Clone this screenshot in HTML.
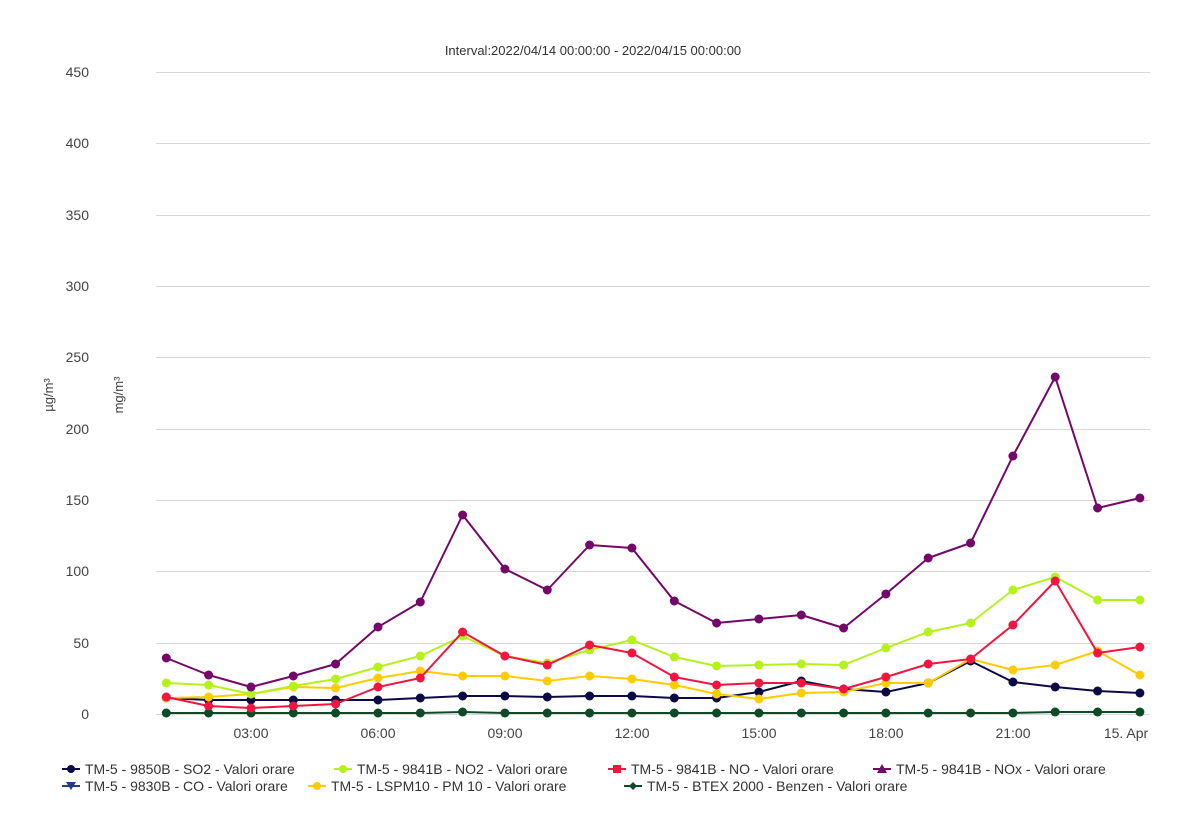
<!DOCTYPE html>
<html><head><meta charset="utf-8"><style>body{margin:0;background:#fff}svg{display:block;font-family:"Liberation Sans",sans-serif}</style></head>
<body>
<svg width="1202" height="829" xmlns="http://www.w3.org/2000/svg">
<defs>
<marker id="m1" markerUnits="userSpaceOnUse" markerWidth="10" markerHeight="10" refX="5" refY="5"><circle cx="5" cy="5" r="4.5" fill="#0d4a25"/></marker>
<marker id="m2" markerUnits="userSpaceOnUse" markerWidth="10" markerHeight="10" refX="5" refY="5"><circle cx="5" cy="5" r="4.5" fill="#0b0a45"/></marker>
<marker id="m3" markerUnits="userSpaceOnUse" markerWidth="10" markerHeight="10" refX="5" refY="5"><circle cx="5" cy="5" r="4.5" fill="#ffcc00"/></marker>
<marker id="m4" markerUnits="userSpaceOnUse" markerWidth="10" markerHeight="10" refX="5" refY="5"><circle cx="5" cy="5" r="4.5" fill="#b5f21c"/></marker>
<marker id="m5" markerUnits="userSpaceOnUse" markerWidth="10" markerHeight="10" refX="5" refY="5"><circle cx="5" cy="5" r="4.5" fill="#f0163f"/></marker>
<marker id="m6" markerUnits="userSpaceOnUse" markerWidth="10" markerHeight="10" refX="5" refY="5"><circle cx="5" cy="5" r="4.5" fill="#74086a"/></marker>
</defs>
<rect width="1202" height="829" fill="#fff"/>
<text x="593" y="55" font-size="13" fill="#333" text-anchor="middle">Interval:2022/04/14 00:00:00 - 2022/04/15 00:00:00</text>
<g stroke="#d8d8d8" stroke-width="1">
<line x1="156" x2="1150" y1="72.5" y2="72.5"/><line x1="156" x2="1150" y1="143.5" y2="143.5"/><line x1="156" x2="1150" y1="215.5" y2="215.5"/><line x1="156" x2="1150" y1="286.5" y2="286.5"/><line x1="156" x2="1150" y1="357.5" y2="357.5"/><line x1="156" x2="1150" y1="429.5" y2="429.5"/><line x1="156" x2="1150" y1="500.5" y2="500.5"/><line x1="156" x2="1150" y1="571.5" y2="571.5"/><line x1="156" x2="1150" y1="643.5" y2="643.5"/><line x1="156" x2="1150" y1="714.5" y2="714.5"/>
</g>
<g font-size="14" fill="#444" text-anchor="end">
<text x="89" y="77">450</text><text x="89" y="148">400</text><text x="89" y="220">350</text><text x="89" y="291">300</text><text x="89" y="362">250</text><text x="89" y="434">200</text><text x="89" y="505">150</text><text x="89" y="576">100</text><text x="89" y="648">50</text><text x="89" y="719">0</text>
</g>
<text transform="translate(53,395) rotate(-90)" font-size="13" fill="#444" text-anchor="middle">µg/m³</text>
<text transform="translate(123,395) rotate(-90)" font-size="13" fill="#444" text-anchor="middle">mg/m³</text>
<g font-size="14" fill="#444" text-anchor="middle">
<text x="251" y="738">03:00</text><text x="378" y="738">06:00</text><text x="505" y="738">09:00</text><text x="632" y="738">12:00</text><text x="759" y="738">15:00</text><text x="886" y="738">18:00</text><text x="1013" y="738">21:00</text><text x="1126" y="738">15. Apr</text>
</g>
<g fill="none" stroke-width="2" stroke-linejoin="round">
<polyline stroke="#0d4a25" marker-start="url(#m1)" marker-mid="url(#m1)" marker-end="url(#m1)" points="166.3,713 208.6,713 251,713 293.3,713 335.6,713 378,713 420.3,713 462.6,712 504.9,713 547.3,713 589.6,713 631.9,713 674.3,713 716.6,713 758.9,713 801.3,713 843.6,713 885.9,713 928.2,713 970.6,713 1012.9,713 1055.2,712 1097.6,712 1139.9,712"/>
<polyline stroke="#0b0a45" marker-start="url(#m2)" marker-mid="url(#m2)" marker-end="url(#m2)" points="166.3,698 208.6,700 251,700 293.3,700 335.6,700 378,700 420.3,698 462.6,696 504.9,696 547.3,697 589.6,696 631.9,696 674.3,698 716.6,698 758.9,692 801.3,681 843.6,689 885.9,692 928.2,683 970.6,661 1012.9,682 1055.2,687 1097.6,691 1139.9,693"/>
<polyline stroke="#ffcc00" marker-start="url(#m3)" marker-mid="url(#m3)" marker-end="url(#m3)" points="166.3,698 208.6,697 251,694 293.3,687 335.6,688 378,678 420.3,671 462.6,676 504.9,676 547.3,681 589.6,676 631.9,679 674.3,685 716.6,694 758.9,699 801.3,693 843.6,692 885.9,683 928.2,683 970.6,659 1012.9,670 1055.2,665 1097.6,651 1139.9,675"/>
<polyline stroke="#b5f21c" marker-start="url(#m4)" marker-mid="url(#m4)" marker-end="url(#m4)" points="166.3,683 208.6,685 251,694 293.3,686 335.6,679 378,667 420.3,656 462.6,636 504.9,656 547.3,663 589.6,650 631.9,640 674.3,657 716.6,666 758.9,665 801.3,664 843.6,665 885.9,648 928.2,632 970.6,623 1012.9,590 1055.2,577 1097.6,600 1139.9,600"/>
<polyline stroke="#f0163f" marker-start="url(#m5)" marker-mid="url(#m5)" marker-end="url(#m5)" points="166.3,697 208.6,706 251,708 293.3,706 335.6,704 378,687 420.3,678 462.6,632 504.9,656 547.3,665 589.6,645 631.9,653 674.3,677 716.6,685 758.9,683 801.3,683 843.6,689 885.9,677 928.2,664 970.6,659 1012.9,625 1055.2,581 1097.6,653 1139.9,647"/>
<polyline stroke="#74086a" marker-start="url(#m6)" marker-mid="url(#m6)" marker-end="url(#m6)" points="166.3,658 208.6,675 251,687 293.3,676 335.6,664 378,627 420.3,602 462.6,515 504.9,569 547.3,590 589.6,545 631.9,548 674.3,601 716.6,623 758.9,619 801.3,615 843.6,628 885.9,594 928.2,558 970.6,543 1012.9,456 1055.2,377 1097.6,508 1139.9,498"/>
</g>
<g font-size="14" fill="#333">
<line x1="62" x2="80" y1="769" y2="769" stroke="#0b0a45" stroke-width="2"/><circle cx="71" cy="769" r="4" fill="#0b0a45"/>
<text x="85" y="774">TM-5 - 9850B - SO2 - Valori orare</text>
<line x1="334" x2="352" y1="769" y2="769" stroke="#b5f21c" stroke-width="2"/><circle cx="343" cy="769" r="4" fill="#b5f21c"/>
<text x="357" y="774">TM-5 - 9841B - NO2 - Valori orare</text>
<line x1="608" x2="626" y1="769" y2="769" stroke="#f0163f" stroke-width="2"/><rect x="613" y="765" width="8" height="8" fill="#f0163f"/>
<text x="631" y="774">TM-5 - 9841B - NO - Valori orare</text>
<line x1="873" x2="891" y1="769" y2="769" stroke="#74086a" stroke-width="2"/><path d="M882 764 L887 773 L877 773Z" fill="#74086a"/>
<text x="896" y="774">TM-5 - 9841B - NOx - Valori orare</text>
<line x1="62" x2="80" y1="786" y2="786" stroke="#1f3b8a" stroke-width="2"/><path d="M66 782 L76 782 L71 790Z" fill="#1f3b8a"/>
<text x="85" y="791">TM-5 - 9830B - CO - Valori orare</text>
<line x1="308" x2="326" y1="786" y2="786" stroke="#ffcc00" stroke-width="2"/><circle cx="317" cy="786" r="4" fill="#ffcc00"/>
<text x="331" y="791">TM-5 - LSPM10 - PM 10 - Valori orare</text>
<line x1="624" x2="642" y1="786" y2="786" stroke="#0d4a25" stroke-width="2"/><path d="M633 782 L637 786 L633 790 L629 786Z" fill="#0d4a25"/>
<text x="647" y="791">TM-5 - BTEX 2000 - Benzen - Valori orare</text>
</g>
</svg>
</body></html>
